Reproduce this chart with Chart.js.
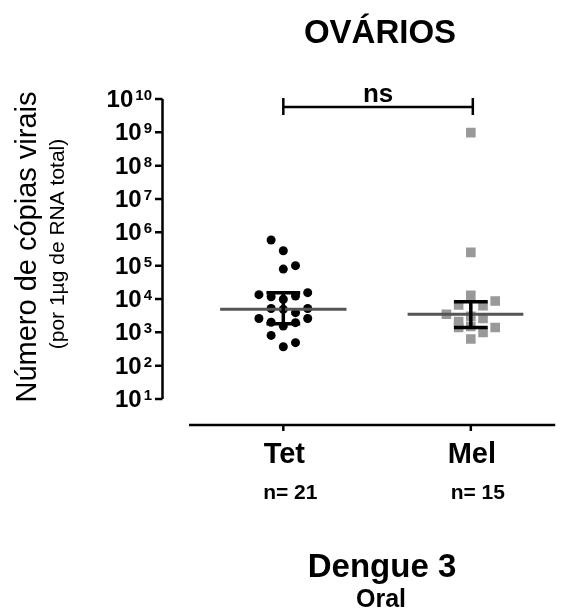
<!DOCTYPE html>
<html>
<head>
<meta charset="utf-8">
<script src="https://cdn.jsdelivr.net/npm/chart.js@4"></script>
<style>
  html, body { margin: 0; padding: 0; background: #fff; }
  #wrap { width: 562px; height: 614px; }
</style>
</head>
<body>
<div id="wrap"><canvas id="ovarios" width="562" height="614"></canvas></div>
<script>
// groups
const groups = ['Tet', 'Mel'];
const groupN = ['n= 21', 'n= 15'];

// copies per 1ug RNA; column = horizontal slot in the dot cloud
const tetValues = [5.9e5, 2.8e5, 7.9e4, 1.0e5, 1.35e4, 1.17e4, 9.8e3, 1.23e4, 1.55e4, 5.2e3, 4.9e3,
                   3.9e3, 5.2e3, 2.6e3, 2.0e3, 1.55e3, 1.95e3, 2.6e3, 810, 370, 490];
const tetColumns = [-1, 0, 0, 1, -2, -1, 0, 1, 2, -1, 0, 1, 2, -2, -1, 0, 1, 2, -1, 0, 1];

const melValues = [9.8e8, 2.5e5, 1.3e4, 8.7e3, 6.6e3, 6.3e3, 3.5e3, 3.0e3, 2.6e3, 2.1e3, 1.4e3,
                   1.5e3, 1.4e3, 1.0e3, 630];
const melColumns = [0, 0, 0, 2, -1, 1, -2, 0, 1, -1, -1, 0, 2, 1, 0];

// median and interquartile range
const medians = [4.9e3, 3.5e3];
const upperQ = [1.55e4, 8.3e3];
const lowerQ = [1.8e3, 1.4e3];

// y axis ticks (powers of ten)
const yExponents = [1, 2, 3, 4, 5, 6, 7, 8, 9, 10];

const colSpread = 0.065;
const capHalf = 0.09;
const FONT = '"Liberation Sans", Arial, sans-serif';

function points(values, columns, center) {
    return values.map((v, i) => ({ x: center + columns[i] * colSpread, y: v }));
}

function errorBar(i) {
    return [
        { x: i - capHalf, y: upperQ[i] }, { x: i + capHalf, y: upperQ[i] }, { x: i, y: null },
        { x: i, y: upperQ[i] }, { x: i, y: lowerQ[i] }, { x: i, y: null },
        { x: i - capHalf, y: lowerQ[i] }, { x: i + capHalf, y: lowerQ[i] }
    ];
}

// everything GraphPad-like that Chart.js doesn't draw itself
const decorations = {
    id: 'decorations',
    afterDraw(chart) {
        const ctx = chart.ctx;
        const xs = chart.scales.x;
        const ys = chart.scales.y;
        const area = chart.chartArea;
        ctx.save();
        ctx.strokeStyle = '#000';
        ctx.fillStyle = '#000';
        ctx.lineCap = 'butt';

        // y axis, offset to the left
        const axX = 162.5;
        const top = ys.getPixelForValue(1e10);
        const bot = ys.getPixelForValue(10);
        ctx.lineWidth = 2.5;
        ctx.beginPath();
        ctx.moveTo(axX, top);
        ctx.lineTo(axX, bot);
        yExponents.forEach(e => {
            const y = ys.getPixelForValue(Math.pow(10, e));
            ctx.moveTo(155, y);
            ctx.lineTo(axX, y);
        });
        ctx.stroke();

        // tick labels 10^n
        ctx.textBaseline = 'alphabetic';
        ctx.textAlign = 'right';
        yExponents.forEach(e => {
            const y = ys.getPixelForValue(Math.pow(10, e));
            ctx.font = 'bold 15px ' + FONT;
            const expRight = 152;
            const ew = ctx.measureText(String(e)).width;
            ctx.fillText(String(e), expRight, y + 1);
            ctx.font = 'bold 24px ' + FONT;
            ctx.fillText('10', expRight - ew - 2, y + 8);
        });

        // x axis, offset below
        const axY = 425;
        ctx.lineWidth = 2.5;
        ctx.beginPath();
        ctx.moveTo(area.left, axY);
        ctx.lineTo(area.right, axY);
        groups.forEach((g, i) => {
            const x = xs.getPixelForValue(i);
            ctx.moveTo(x, axY);
            ctx.lineTo(x, axY + 6);
        });
        ctx.stroke();

        ctx.textAlign = 'center';
        groups.forEach((g, i) => {
            const x = xs.getPixelForValue(i);
            ctx.font = 'bold 29px ' + FONT;
            ctx.fillText(g, x + 1, 463);
            ctx.font = 'bold 21px ' + FONT;
            ctx.fillText(groupN[i], x + 7, 499);
        });

        // significance bracket
        const x0 = xs.getPixelForValue(0);
        const x1 = xs.getPixelForValue(1) + 2;
        ctx.lineWidth = 2.5;
        ctx.beginPath();
        ctx.moveTo(x0, 107);
        ctx.lineTo(x1, 107);
        ctx.moveTo(x0, 98);
        ctx.lineTo(x0, 115);
        ctx.moveTo(x1, 98);
        ctx.lineTo(x1, 115);
        ctx.stroke();
        ctx.font = 'bold 26px ' + FONT;
        ctx.fillText('ns', (x0 + x1) / 2, 102);

        // titles
        ctx.font = 'bold 33px ' + FONT;
        ctx.fillText('OVÁRIOS', 380, 43);
        ctx.font = 'bold 33px ' + FONT;
        ctx.fillText('Dengue 3', 382, 577);
        ctx.font = 'bold 25px ' + FONT;
        ctx.fillText('Oral', 381, 607);

        // y axis title, rotated
        ctx.save();
        ctx.translate(36, 247);
        ctx.rotate(-Math.PI / 2);
        ctx.font = '29px ' + FONT;
        ctx.fillText('Número de cópias virais', 0, 0);
        ctx.restore();
        ctx.save();
        ctx.translate(64, 244);
        ctx.rotate(-Math.PI / 2);
        ctx.font = '21px ' + FONT;
        ctx.fillText('(por 1µg de RNA total)', 0, 0);
        ctx.restore();

        ctx.restore();
    }
};

const ctx = document.getElementById('ovarios').getContext('2d');
new Chart(ctx, {
    type: 'scatter',
    data: {
        datasets: [
            {
                label: 'Tet',
                data: points(tetValues, tetColumns, 0),
                pointStyle: 'circle',
                pointRadius: 4.5,
                backgroundColor: '#000',
                borderColor: '#000',
                borderWidth: 0,
                order: 3
            },
            {
                label: 'Mel',
                data: points(melValues, melColumns, 1),
                pointStyle: 'rect',
                pointRadius: 6.8,
                backgroundColor: '#999',
                borderColor: '#999',
                borderWidth: 0,
                order: 3
            },
            {
                label: 'Tet median',
                type: 'line',
                data: [{ x: -0.337, y: medians[0] }, { x: 0.337, y: medians[0] }],
                borderColor: '#555',
                borderWidth: 3,
                pointRadius: 0,
                order: 2
            },
            {
                label: 'Mel median',
                type: 'line',
                data: [{ x: 1 - 0.337, y: medians[1] }, { x: 1 + 0.28, y: medians[1] }],
                borderColor: '#555',
                borderWidth: 3,
                pointRadius: 0,
                order: 2
            },
            {
                label: 'Tet IQR',
                type: 'line',
                data: errorBar(0),
                borderColor: '#000',
                borderWidth: 3.5,
                pointRadius: 0,
                spanGaps: false,
                order: 1
            },
            {
                label: 'Mel IQR',
                type: 'line',
                data: errorBar(1),
                borderColor: '#000',
                borderWidth: 3.5,
                pointRadius: 0,
                spanGaps: false,
                order: 1
            }
        ]
    },
    options: {
        responsive: false,
        animation: false,
        layout: { padding: { left: 189, right: 0, top: 99, bottom: 215 } },
        scales: {
            x: { type: 'linear', min: -0.503, max: 1.45, display: false },
            y: { type: 'logarithmic', min: 10, max: 1e10, display: false }
        },
        plugins: {
            legend: { display: false },
            tooltip: { enabled: false }
        }
    },
    plugins: [decorations]
});
</script>
</body>
</html>
